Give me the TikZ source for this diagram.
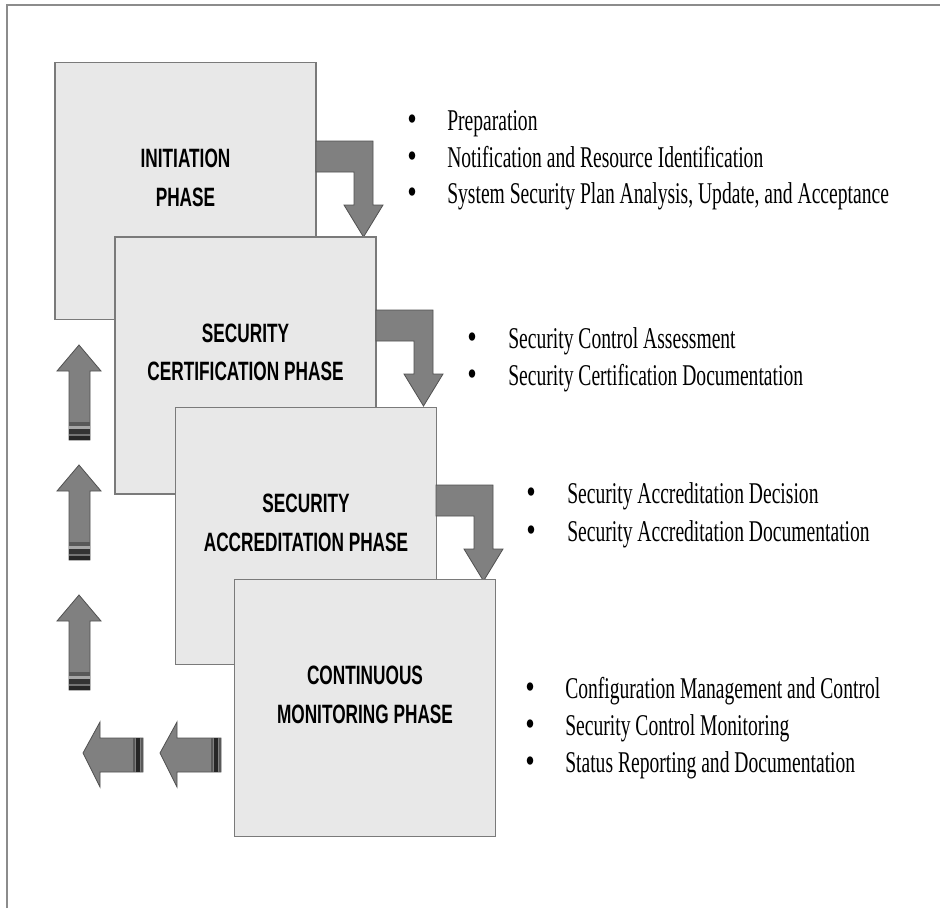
\documentclass[tikz,border=0pt]{standalone}
\usepackage{fontspec}
\usepackage{graphicx}
\usetikzlibrary{calc}
\setmainfont{Liberation Serif}
\newfontfamily\labelfont{Liberation Sans}

\definecolor{boxfill}{HTML}{E8E8E8}
\definecolor{boxedge}{HTML}{7A7A7A}
\definecolor{arrowfill}{HTML}{808080}
\definecolor{arrowedge}{HTML}{505050}
\definecolor{framegray}{HTML}{8C8C8C}

% narrow text, as set in the figure
\newcommand\narrow[1]{\scalebox{0.65}[1]{#1}}
% list bullet
\newcommand\dotmark{\scalebox{0.9}[1.15]{•}}

\tikzset{
  phasebox/.style={draw=boxedge, fill=boxfill, line width=1.4pt,
    minimum width=261*0.75pt, minimum height=257*0.75pt, inner sep=0pt},
  phaselabel/.style={align=center, inner sep=0pt,
    font=\labelfont\bfseries\fontsize{19.9}{29}\selectfont},
  itemtext/.style={anchor=base west, inner sep=0pt,
    font=\fontsize{22.6}{28}\selectfont},
  itembullet/.style={anchor=base, inner sep=0pt,
    font=\fontsize{22.6}{28}\selectfont},
  blockarrow/.style={fill=arrowfill, draw=arrowedge, line width=0.6pt, line join=miter},
}

% bent arrow from one phase box down onto the next
\newcommand\bentarrow[1]{%
  \draw[blockarrow, shift={#1}] (0,0) -- (57,0) -- (57,64) -- (67,64)
    -- (47.5,96) -- (28,64) -- (38,64) -- (38,31) -- (0,31) -- cycle;}

% upward block arrow, tip at the given point, striped tail
\newcommand\upblock[1]{%
  \begin{scope}[shift={#1}]
    \draw[blockarrow] (0,0) -- (22,26) -- (11,26) -- (11,95) -- (-10,95)
      -- (-10,26) -- (-22,26) -- cycle;
    \fill[black!65] (-10,77) rectangle (11,81);
    \fill[black!35] (-10,81) rectangle (11,84);
    \fill[black!80] (-10,84) rectangle (11,89);
    \fill[black!55] (-10,89) rectangle (11,91);
    \fill[black!85] (-10,91) rectangle (11,95);
  \end{scope}}

% leftward block arrow, tip at the given point, striped tail
\newcommand\leftblock[2]{%
  \begin{scope}[shift={#1}]
    \draw[blockarrow] (0,0) -- (17,-31) -- (17,-15) -- (#2,-15) -- (#2,19)
      -- (17,19) -- (17,34) -- cycle;
    \fill[black!65] (#2-10,-15) rectangle (#2-8,19);
    \fill[black!85] (#2-7,-15) rectangle (#2-3,19);
    \fill[black!65] (#2-2,-15) rectangle (#2,19);
  \end{scope}}

\begin{document}
\begin{tikzpicture}[x=0.75pt, y=-0.75pt]
  \useasboundingbox (0,0) rectangle (940,908);
  \fill[white] (0,0) rectangle (940,908);

  % frame
  \draw[framegray, line width=1.6pt] (7,908) -- (7,5) -- (940,5);

  % phase boxes, each overlapping the previous one
  \node[phasebox] (b1) at (185.5,191) {};
  \node[phaselabel] (t1) at ($(b1.center)+(0,-13)$) {\narrow{INITIATION}\\\narrow{PHASE}};
  \bentarrow{(316,141)}

  \node[phasebox] (b2) at (245.5,365.5) {};
  \node[phaselabel] (t2) at ($(b2.center)+(0,-13)$) {\narrow{SECURITY}\\\narrow{CERTIFICATION PHASE}};
  \bentarrow{(376,310)}

  \node[phasebox] (b3) at (306,536) {};
  \node[phaselabel] (t3) at ($(b3.center)+(0,-13)$) {\narrow{SECURITY}\\\narrow{ACCREDITATION PHASE}};
  \bentarrow{(436,485)}

  \node[phasebox] (b4) at (365,708) {};
  \node[phaselabel] (t4) at ($(b4.center)+(0,-13)$) {\narrow{CONTINUOUS}\\\narrow{MONITORING PHASE}};

  % feedback arrows
  \upblock{(79,345)}
  \upblock{(79,465)}
  \upblock{(79,595)}
  \leftblock{(83,753)}{60}
  \leftblock{(160,753)}{61}

  % activities of each phase
  \node[itembullet] (d11) at (412,130) {\dotmark};
  \node[itemtext] (i11) at (447,130) {\narrow{Preparation}};
  \node[itembullet] (d12) at (412,167) {\dotmark};
  \node[itemtext] (i12) at (447,167) {\narrow{Notification and Resource Identification}};
  \node[itembullet] (d13) at (412,203) {\dotmark};
  \node[itemtext] (i13) at (447,203) {\narrow{System Security Plan Analysis, Update, and Acceptance}};

  \node[itembullet] (d21) at (472,348) {\dotmark};
  \node[itemtext] (i21) at (508,348) {\narrow{Security Control Assessment}};
  \node[itembullet] (d22) at (472,385) {\dotmark};
  \node[itemtext] (i22) at (508,385) {\narrow{Security Certification Documentation}};

  \node[itembullet] (d31) at (531,503) {\dotmark};
  \node[itemtext] (i31) at (567,503) {\narrow{Security Accreditation Decision}};
  \node[itembullet] (d32) at (531,541) {\dotmark};
  \node[itemtext] (i32) at (567,541) {\narrow{Security Accreditation Documentation}};

  \node[itembullet] (d41) at (530,698) {\dotmark};
  \node[itemtext] (i41) at (565,698) {\narrow{Configuration Management and Control}};
  \node[itembullet] (d42) at (530,735) {\dotmark};
  \node[itemtext] (i42) at (565,735) {\narrow{Security Control Monitoring}};
  \node[itembullet] (d43) at (530,772) {\dotmark};
  \node[itemtext] (i43) at (565,772) {\narrow{Status Reporting and Documentation}};
\end{tikzpicture}
\end{document}
